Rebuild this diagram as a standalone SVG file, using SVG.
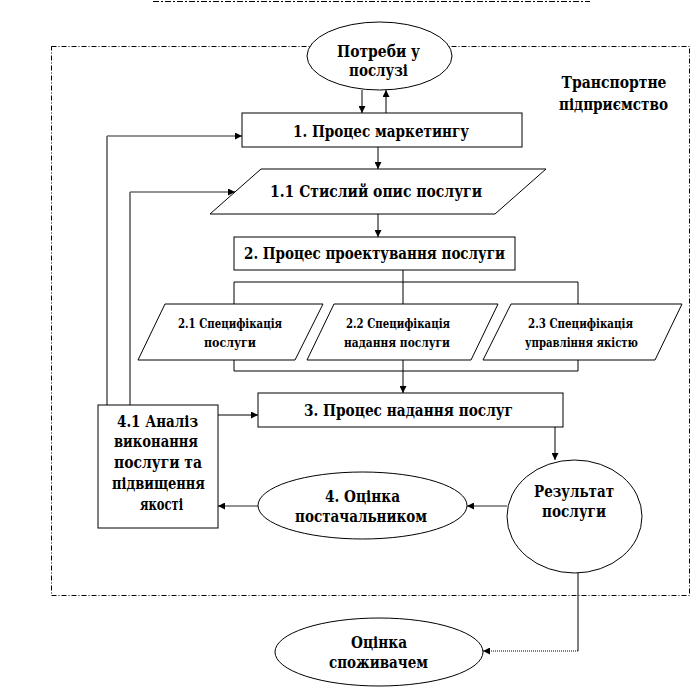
<svg xmlns="http://www.w3.org/2000/svg" width="691" height="688" viewBox="0 0 691 688">
<defs>
<style>
.shape{fill:#fff;stroke:#000;stroke-width:1}
.t{font-family:'DejaVu Serif','Liberation Serif',serif;font-weight:700;font-size:16px;fill:#000;text-anchor:middle}
.s{font-size:12px}
.ln{fill:none;stroke:#000;stroke-width:1}
.gr{fill:none;stroke:#6e6e6e;stroke-width:1.6}
.dot{fill:none;stroke:#000;stroke-width:1;stroke-dasharray:1,1}
.bound{fill:none;stroke:#000;stroke-width:1;stroke-dasharray:5,2,1,2}
</style>
<marker id="ah" viewBox="0 0 10 10" refX="10" refY="5" markerWidth="8" markerHeight="7" markerUnits="userSpaceOnUse" orient="auto">
<path d="M0,0 L10,5 L0,10 z" fill="#000"/>
</marker>
</defs>
<rect width="691" height="688" fill="#fff"/>
<line x1="153" y1="1.5" x2="590" y2="1.5" stroke="#000" stroke-width="1" stroke-dasharray="6,2,2,2"/>
<g id="boundary">
<rect class="bound" x="51.5" y="46.5" width="638" height="549"/>
<text class="t" x="614" y="88" textLength="105" lengthAdjust="spacingAndGlyphs">Транспортне</text>
<text class="t" x="613.5" y="110" textLength="109" lengthAdjust="spacingAndGlyphs">підприємство</text>
</g>
<g id="connectors">
<line class="ln" x1="362" y1="90" x2="362" y2="113" marker-end="url(#ah)"/>
<line class="ln" x1="386" y1="113" x2="386" y2="90" marker-end="url(#ah)"/>
<line class="ln" x1="378" y1="147" x2="378" y2="169" marker-end="url(#ah)"/>
<line class="ln" x1="378" y1="214" x2="378" y2="237" marker-end="url(#ah)"/>
<line class="ln" x1="403" y1="270" x2="403" y2="304"/>
<polyline class="ln" points="234,304 234,282 578,282 578,304"/>
<polyline class="ln" points="234,360 234,371 578,371 578,360"/>
<line class="ln" x1="403" y1="360" x2="403" y2="393" marker-end="url(#ah)"/>
<line class="ln" x1="555" y1="427" x2="555" y2="460" marker-end="url(#ah)"/>
<line class="gr" x1="507" y1="506" x2="467" y2="506" marker-end="url(#ah)"/>
<line class="gr" x1="258" y1="506" x2="218" y2="506" marker-end="url(#ah)"/>
<line class="ln" x1="218" y1="415" x2="258" y2="415" marker-end="url(#ah)"/>
<polyline class="ln" points="107,405 107,136"/>
<line class="gr" x1="107" y1="136" x2="242" y2="136" marker-end="url(#ah)"/>
<polyline class="ln" points="130,405 130,192"/>
<line class="gr" x1="130" y1="192" x2="235" y2="192" marker-end="url(#ah)"/>
<line class="ln" x1="578" y1="573" x2="578" y2="651"/>
<line class="dot" x1="578" y1="651" x2="483" y2="651" marker-end="url(#ah)"/>
</g>
<g id="needs">
<ellipse class="shape" cx="379.5" cy="56" rx="72.5" ry="34"/>
<text class="t" x="378.5" y="57" textLength="83" lengthAdjust="spacingAndGlyphs">Потреби у</text>
<text class="t" x="378.5" y="76" textLength="59" lengthAdjust="spacingAndGlyphs">послузі</text>
</g>
<g id="marketing">
<rect class="shape" x="242" y="113" width="280" height="34"/>
<text class="t" x="381" y="137" textLength="176" lengthAdjust="spacingAndGlyphs">1. Процес маркетингу</text>
</g>
<g id="brief">
<polygon class="shape" points="261,169 546,169 495,214 210,214"/>
<text class="t" x="376" y="197" textLength="212" lengthAdjust="spacingAndGlyphs">1.1 Стислий опис послуги</text>
</g>
<g id="design">
<rect class="shape" x="234" y="237" width="281" height="33"/>
<text class="t" x="374.5" y="259" textLength="261" lengthAdjust="spacingAndGlyphs">2. Процес проектування послуги</text>
</g>
<g id="spec1">
<polygon class="shape" points="165,304 323,304 295,360 138,360"/>
<text class="t s" x="230" y="328" textLength="104" lengthAdjust="spacingAndGlyphs">2.1 Специфікація</text>
<text class="t s" x="230" y="347" textLength="52" lengthAdjust="spacingAndGlyphs">послуги</text>
</g>
<g id="spec2">
<polygon class="shape" points="334,304 498,304 471,360 307,360"/>
<text class="t s" x="398" y="328" textLength="104" lengthAdjust="spacingAndGlyphs">2.2 Специфікація</text>
<text class="t s" x="397" y="347" textLength="106" lengthAdjust="spacingAndGlyphs">надання послуги</text>
</g>
<g id="spec3">
<polygon class="shape" points="511,304 682,304 655,360 483,360"/>
<text class="t s" x="580.5" y="328" textLength="105" lengthAdjust="spacingAndGlyphs">2.3 Специфікація</text>
<text class="t s" x="581.5" y="347" textLength="113" lengthAdjust="spacingAndGlyphs">управління якістю</text>
</g>
<g id="delivery">
<rect class="shape" x="258" y="393" width="305" height="34"/>
<text class="t" x="408.5" y="416" textLength="209" lengthAdjust="spacingAndGlyphs">3. Процес надання послуг</text>
</g>
<g id="analysis">
<rect class="shape" x="98" y="405" width="120" height="123"/>
<text class="t" x="157.5" y="427" textLength="81" lengthAdjust="spacingAndGlyphs">4.1 Аналіз</text>
<text class="t" x="156" y="447" textLength="84" lengthAdjust="spacingAndGlyphs">виконання</text>
<text class="t" x="158" y="468" textLength="88" lengthAdjust="spacingAndGlyphs">послуги та</text>
<text class="t" x="158.5" y="489" textLength="93" lengthAdjust="spacingAndGlyphs">підвищення</text>
<text class="t" x="161.5" y="510" textLength="43" lengthAdjust="spacingAndGlyphs">якості</text>
</g>
<g id="result">
<ellipse class="shape" cx="574.5" cy="516.5" rx="67.5" ry="56.5"/>
<text class="t" x="574" y="497" textLength="80" lengthAdjust="spacingAndGlyphs">Результат</text>
<text class="t" x="574" y="517" textLength="64" lengthAdjust="spacingAndGlyphs">послуги</text>
</g>
<g id="supplier-eval">
<ellipse class="shape" cx="362.5" cy="505.5" rx="104.5" ry="33.5"/>
<text class="t" x="362.5" y="502" textLength="75" lengthAdjust="spacingAndGlyphs">4. Оцінка</text>
<text class="t" x="361" y="522" textLength="132" lengthAdjust="spacingAndGlyphs">постачальником</text>
</g>
<g id="consumer-eval">
<ellipse class="shape" cx="379" cy="652" rx="104" ry="34"/>
<text class="t" x="379" y="648" textLength="56" lengthAdjust="spacingAndGlyphs">Оцінка</text>
<text class="t" x="378.5" y="668" textLength="99" lengthAdjust="spacingAndGlyphs">споживачем</text>
</g>
</svg>
